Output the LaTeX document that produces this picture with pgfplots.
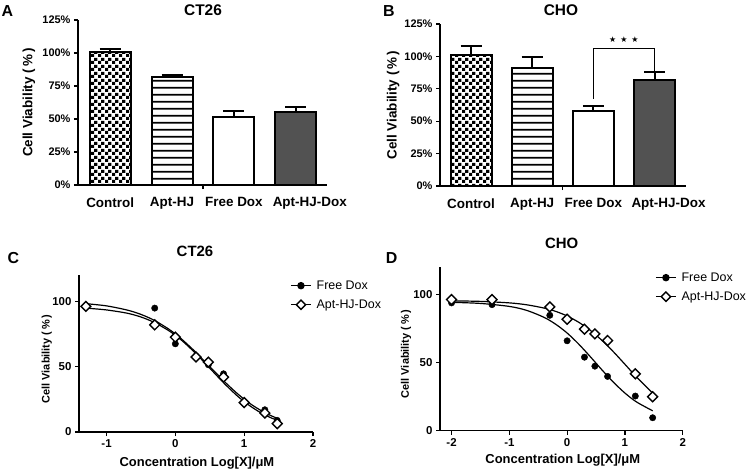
\documentclass[border=0pt]{standalone}
\usepackage{fontspec}
\setmainfont{Liberation Sans}
\newfontfamily\djv{DejaVu Sans}
\usepackage{pgfplots}
\pgfplotsset{compat=1.18}
\usetikzlibrary{patterns}

\pgfdeclarepatternformonly{mychecker}{\pgfpointorigin}{\pgfpoint{7bp}{7bp}}{\pgfpoint{7bp}{7bp}}{%
  \pgfpathrectangle{\pgfpointorigin}{\pgfpoint{3.5bp}{3.5bp}}%
  \pgfpathrectangle{\pgfpoint{3.5bp}{3.5bp}}{\pgfpoint{3.5bp}{3.5bp}}%
  \pgfusepath{fill}}
\pgfdeclarepatternformonly{myhlines}{\pgfpointorigin}{\pgfpoint{10bp}{6.7bp}}{\pgfpoint{10bp}{6.7bp}}{%
  \pgfsetlinewidth{2bp}%
  \pgfpathmoveto{\pgfpoint{-1bp}{3.35bp}}\pgfpathlineto{\pgfpoint{11bp}{3.35bp}}\pgfusepath{stroke}}

\definecolor{bargray}{HTML}{525252}

\pgfplotsset{
  barax/.style={
    scale only axis, anchor=south west,
    axis lines=left, axis line style={-, line width=1.4bp},
    ymin=0, ymax=125,
    ytick={0,25,50,75,100,125},
    yticklabels={0\%,25\%,50\%,75\%,100\%,125\%},
    xtick={1.5}, xticklabels={},
    extra x ticks={0,1,2,3},
    extra x tick labels={Control,Apt-HJ,Free Dox,\hspace*{28bp}Apt-HJ-Dox},
    extra x tick style={major tick length=0pt},
    tick align=outside, major tick length=4bp,
    tick style={line width=1.2bp, black},
    y tick label style={font=\bfseries\fontsize{11}{12}\selectfont},
    x tick label style={font=\bfseries\fontsize{13.5}{15}\selectfont, yshift=-9bp},
    ylabel={Cell Viability (\,\%\,)},
    ylabel style={font=\bfseries\fontsize{13.5}{14}\selectfont, anchor=center},
  },
  barst/.style={ybar, bar width=41bp, bar shift=0pt, draw=black, line width=2bp,
    error bars/.cd, y dir=plus, y explicit,
    error bar style={line width=2bp, black},
    error mark options={rotate=90, line width=2bp, mark size=10.5bp, black},
    /pgfplots/.cd},
  curveax/.style={
    scale only axis, anchor=south west,
    axis lines=left, axis line style={-, line width=1.3bp},
    ymin=0, ymax=120, ytick={0,50,100}, yticklabels={0,50,100},
    tick align=outside, major tick length=4bp,
    tick style={line width=1.2bp, black},
    tick label style={font=\bfseries\fontsize{11.5}{12}\selectfont},
    ylabel={Cell Viability (\,\%\,)},
    ylabel style={font=\bfseries\fontsize{11}{12}\selectfont, anchor=center},
    xlabel={Concentration Log[X]/μM},
    xlabel style={font=\bfseries\fontsize{13}{14}\selectfont, anchor=center},
    legend image code/.code={\draw[mark repeat=2,mark phase=2,#1] plot coordinates {(0bp,0bp)(10bp,0bp)(20bp,0bp)};},
    legend style={draw=none, fill=none, inner sep=0pt, anchor=north west,
      font=\fontsize{12.5}{14}\selectfont, cells={anchor=west}, row sep=5bp,
      /tikz/every odd column/.append style={column sep=3bp}},
  },
  fdmark/.style={only marks, mark=*, mark size=3.2bp, black},
  apmark/.style={only marks, mark=square*, mark size=3.5bp, mark options={rotate=45, fill=white, draw=black, line width=1.4bp}},
  fitline/.style={smooth, black, line width=1.2bp, no marks},
}

\begin{document}
\begin{tikzpicture}
\useasboundingbox (0,0) rectangle (753bp,-470bp);

% ---------------- A ----------------
\begin{axis}[barax, at={(78bp,-185bp)}, width=248.7bp, height=165bp,
  xmin=-0.52, xmax=3.5,
  ylabel style={at={(axis description cs:-0.197,0.5)}}]
\addplot[pattern=mychecker, pattern color=black, barst] coordinates {(0,100.4) +- (0,2.5)};
\addplot[pattern=myhlines, pattern color=black, barst] coordinates {(1,81.5) +- (0,2.0)};
\addplot[fill=white, barst] coordinates {(2,51.6) +- (0,4.7)};
\addplot[fill=bargray, barst] coordinates {(3,55.1) +- (0,4.0)};
\end{axis}

% ---------------- B ----------------
\begin{axis}[barax, at={(440bp,-186bp)}, width=245.7bp, height=162bp,
  xmin=-0.507, xmax=3.51,
  ylabel style={at={(axis description cs:-0.191,0.5)}}]
\addplot[pattern=mychecker, pattern color=black, barst] coordinates {(0,101.2) +- (0,6.5)};
\addplot[pattern=myhlines, pattern color=black, barst] coordinates {(1,91.3) +- (0,8.5)};
\addplot[fill=white, barst] coordinates {(2,58.1) +- (0,3.9)};
\addplot[fill=bargray, barst] coordinates {(3,82.0) +- (0,5.6)};
\draw[line width=1.3bp] (axis cs:2,67.4) -- (axis cs:2,106.3) -- (axis cs:3,106.3) -- (axis cs:3,89);
\node at (axis cs:2.5,113) {\djv\fontsize{8}{8}\selectfont ★\hspace{4bp}★\hspace{4bp}★};
\end{axis}

% ---------------- C ----------------
\begin{axis}[curveax, at={(79bp,-432bp)}, width=234bp, height=157bp,
  xmin=-1.4, xmax=2, xtick={-1,0,1,2}, xticklabels={-1,0,1,2},
  ylabel style={at={(axis description cs:-0.138,0.465)}},
  xlabel style={at={(axis description cs:0.504,-0.196)}},
  legend style={at={(axis description cs:0.902,0.978)}}]
\addplot[fitline, forget plot] coordinates {
(-1.3,98.1) (-1.0,96.4) (-0.7,93.2) (-0.5,89.9) (-0.3,85.2) (-0.1,78.8) (0,74.9)
(0.1,70.6) (0.2,65.8) (0.3,60.8) (0.4,55.4) (0.5,50) (0.6,44.6) (0.7,39.2)
(0.8,34.2) (0.9,29.4) (1.0,25.1) (1.1,21.2) (1.2,17.8) (1.3,14.8) (1.4,12.25) (1.48,10.5)};
\addplot[fitline, forget plot] coordinates {
(-1.3,94.7) (-1.0,93.3) (-0.7,90.8) (-0.5,87.9) (-0.3,83.6) (-0.1,77.6) (0,73.9)
(0.1,69.7) (0.2,64.9) (0.3,59.8) (0.4,54.4) (0.5,48.8) (0.6,43.2) (0.7,37.7)
(0.8,32.5) (0.9,27.6) (1.0,23.2) (1.1,19.4) (1.2,16.0) (1.3,13.1) (1.4,10.6) (1.48,9.0)};
\addplot[fdmark, forget plot] coordinates {(-1.3,96) (-0.3,94.7) (0,67.4) (0.3,58) (0.48,51.4) (0.7,44.5) (1,22.9) (1.3,17) (1.48,8.9)};
\addplot[apmark, forget plot] coordinates {(-1.3,96) (-0.3,81.9) (0,72.5) (0.3,57.3) (0.48,53.4) (0.7,42) (1,22.5) (1.3,14.5) (1.48,6.4)};
\addlegendimage{black, line width=1.4bp, mark=*, mark size=3bp}
\addlegendentry{Free Dox}
\addlegendimage{black, line width=1.4bp, mark=square*, mark size=3.3bp, mark options={rotate=45, fill=white, draw=black, line width=1.4bp}}
\addlegendentry{Apt-HJ-Dox}
\end{axis}

% ---------------- D ----------------
\begin{axis}[curveax, at={(440bp,-430.7bp)}, width=242.7bp, height=163.7bp,
  xmin=-2.2, xmax=2, xtick={-2,-1,0,1,2}, xticklabels={-2,-1,0,1,2},
  ylabel style={at={(axis description cs:-0.140,0.469)}},
  xlabel style={at={(axis description cs:0.506,-0.183)}},
  legend style={at={(axis description cs:0.886,0.979)}}]
\addplot[fitline, forget plot] coordinates {
(-2,94.1) (-1.5,93.3) (-1.0,91.1) (-0.7,88.2) (-0.4,83.1) (-0.2,78.1) (0,71.6)
(0.2,63.5) (0.4,54.3) (0.6,44.7) (0.8,35.6) (1.0,27.6) (1.2,21.1) (1.48,14.6)};
\addplot[fitline, forget plot] coordinates {
(-2,95.2) (-1.5,94.8) (-1.0,93.7) (-0.7,92.3) (-0.4,89.9) (-0.2,87.5) (0,84.1)
(0.2,79.5) (0.4,73.6) (0.6,66.3) (0.8,57.9) (1.0,48.7) (1.2,39.4) (1.48,27.6)};
\addplot[fdmark, forget plot] coordinates {(-2,93.7) (-1.3,92.4) (-0.3,84.6) (0,65.9) (0.3,53.9) (0.48,47.3) (0.7,39.8) (1.18,25.4) (1.48,9.5)};
\addplot[apmark, forget plot] coordinates {(-2,96.1) (-1.3,96.1) (-0.3,90.7) (0,81.7) (0.3,74.4) (0.48,71) (0.7,66.1) (1.18,41.7) (1.48,24.9)};
\addlegendimage{black, line width=1.4bp, mark=*, mark size=3bp}
\addlegendentry{Free Dox}
\addlegendimage{black, line width=1.4bp, mark=square*, mark size=3.3bp, mark options={rotate=45, fill=white, draw=black, line width=1.4bp}}
\addlegendentry{Apt-HJ-Dox}
\end{axis}

% titles and panel letters
\node[font=\bfseries\fontsize{15.5}{16}\selectfont] at (203bp,-10bp) {CT26};
\node[font=\bfseries\fontsize{15.5}{16}\selectfont] at (561bp,-10bp) {CHO};
\node[font=\bfseries\fontsize{15}{16}\selectfont] at (195bp,-251.7bp) {CT26};
\node[font=\bfseries\fontsize{15}{16}\selectfont] at (561.7bp,-243.3bp) {CHO};
\node[font=\bfseries\fontsize{16}{16}\selectfont] at (7.5bp,-11.5bp) {A};
\node[font=\bfseries\fontsize{16}{16}\selectfont] at (389bp,-11.5bp) {B};
\node[font=\bfseries\fontsize{16}{16}\selectfont] at (13.3bp,-258.3bp) {C};
\node[font=\bfseries\fontsize{16}{16}\selectfont] at (391.7bp,-257.7bp) {D};
\end{tikzpicture}
\end{document}
